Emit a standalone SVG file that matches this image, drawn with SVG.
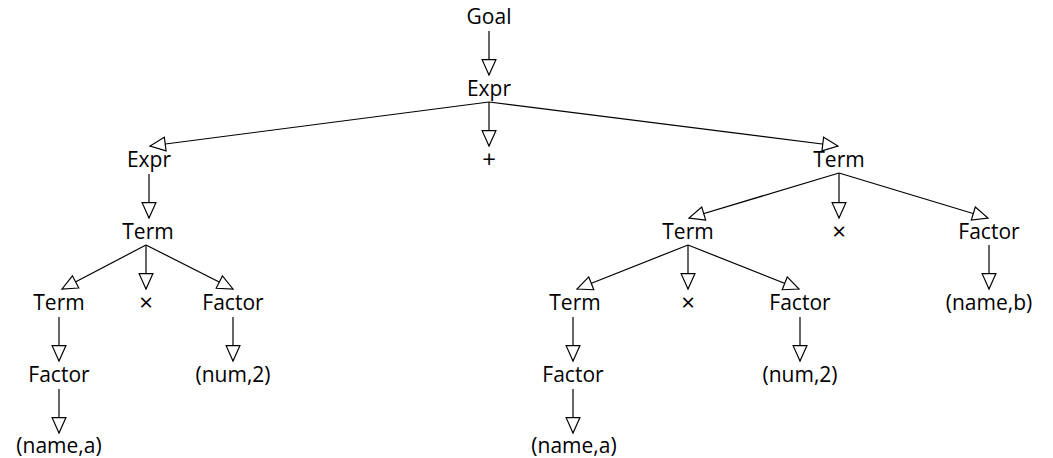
<svg xmlns="http://www.w3.org/2000/svg" width="1053" height="458" viewBox="0 0 1053 458">
  <defs>
    <style>
      .lbl { font-family: "Open Sans", "Liberation Sans", sans-serif; font-size: 21px; fill: #000; text-anchor: middle; }
      .op { font-size: 24px; }
      .edge { stroke: #000; stroke-width: 1.2; fill: none; marker-end: url(#tri); }
    </style>
    <!-- open (hollow) triangular arrowhead -->
    <marker id="tri" markerUnits="userSpaceOnUse" markerWidth="18" markerHeight="16" refX="14.5" refY="6.5" orient="auto" viewBox="-1 -1 17 15">
      <path d="M0,0 L14.5,6.5 L0,13 Z" fill="#fff" stroke="#000" stroke-width="1.1" stroke-linejoin="miter"/>
    </marker>
  </defs>
  <rect width="1053" height="458" fill="#fff"/>

  <!-- connectors: parent bottom to child top -->
  <g id="connectors">
    <line class="edge" x1="489" y1="31" x2="489" y2="75"/>
    <line class="edge" x1="489" y1="102" x2="150" y2="146"/>
    <line class="edge" x1="489" y1="102" x2="489" y2="146"/>
    <line class="edge" x1="489" y1="102" x2="838" y2="146"/>
    <line class="edge" x1="149" y1="174" x2="149" y2="218"/>
    <line class="edge" x1="839" y1="173" x2="689" y2="218"/>
    <line class="edge" x1="839" y1="173" x2="839" y2="218"/>
    <line class="edge" x1="839" y1="173" x2="988" y2="218"/>
    <line class="edge" x1="146" y1="245" x2="62" y2="289"/>
    <line class="edge" x1="146" y1="245" x2="146" y2="289"/>
    <line class="edge" x1="146" y1="245" x2="233" y2="289"/>
    <line class="edge" x1="688" y1="245" x2="577" y2="289"/>
    <line class="edge" x1="688" y1="245" x2="688" y2="289"/>
    <line class="edge" x1="688" y1="245" x2="799" y2="289"/>
    <line class="edge" x1="989" y1="245" x2="989" y2="289"/>
    <line class="edge" x1="59" y1="317" x2="59" y2="361"/>
    <line class="edge" x1="233" y1="317" x2="233" y2="361"/>
    <line class="edge" x1="573" y1="317" x2="573" y2="361"/>
    <line class="edge" x1="800" y1="317" x2="800" y2="361"/>
    <line class="edge" x1="59" y1="389" x2="59" y2="433"/>
    <line class="edge" x1="573" y1="389" x2="573" y2="433"/>
  </g>

  <!-- tree nodes -->
  <g id="n-goal"><text class="lbl" x="489" y="24">Goal</text></g>
  <g id="n-expr-root"><text class="lbl" x="489" y="95.5">Expr</text></g>
  <g id="n-expr-left"><text class="lbl" x="149" y="167">Expr</text></g>
  <g id="n-plus"><text class="lbl op" x="489" y="168">+</text></g>
  <g id="n-term-right"><text class="lbl" x="839" y="167">Term</text></g>
  <g id="n-term-l2"><text class="lbl" x="148" y="238.5">Term</text></g>
  <g id="n-term-r2"><text class="lbl" x="688" y="238.5">Term</text></g>
  <g id="n-times-r2"><text class="lbl op" x="839" y="239.5">×</text></g>
  <g id="n-factor-r2"><text class="lbl" x="989" y="238.5">Factor</text></g>
  <g id="n-term-l3"><text class="lbl" x="59" y="310">Term</text></g>
  <g id="n-times-l3"><text class="lbl op" x="146" y="311">×</text></g>
  <g id="n-factor-l3"><text class="lbl" x="233" y="310">Factor</text></g>
  <g id="n-term-r3"><text class="lbl" x="575" y="310">Term</text></g>
  <g id="n-times-r3"><text class="lbl op" x="688" y="311">×</text></g>
  <g id="n-factor-r3"><text class="lbl" x="800" y="310">Factor</text></g>
  <g id="n-name-b"><text class="lbl" x="989" y="310">(name,b)</text></g>
  <g id="n-factor-l4"><text class="lbl" x="59" y="381.5">Factor</text></g>
  <g id="n-num-l4"><text class="lbl" x="233" y="381.5">(num,2)</text></g>
  <g id="n-factor-r4"><text class="lbl" x="573" y="381.5">Factor</text></g>
  <g id="n-num-r4"><text class="lbl" x="800" y="381.5">(num,2)</text></g>
  <g id="n-name-a-left"><text class="lbl" x="59" y="453">(name,a)</text></g>
  <g id="n-name-a-right"><text class="lbl" x="574" y="453">(name,a)</text></g>
</svg>
